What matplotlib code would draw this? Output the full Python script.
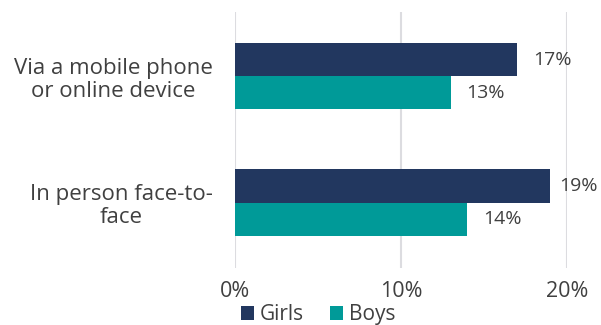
import numpy as np
import matplotlib.pyplot as plt

plt.rcParams['font.family'] = ['Open Sans', 'DejaVu Sans']

categories = ['Via a mobile phone\nor online device', 'In person face-to-\nface']
girls = [17, 19]
boys = [13, 14]
xticks = [0, 10, 20]

navy = '#22375f'
teal = '#009a98'
text_color = '#404040'

fig = plt.figure(figsize=(6.01, 3.25), dpi=100)
ax = fig.add_axes([0.391, 0.175, 0.552, 0.788])

y = np.arange(len(categories))
h = 0.262

b1 = ax.barh(y - h / 2, girls, height=h, color=navy, label='Girls')
b2 = ax.barh(y + h / 2, boys, height=h, color=teal, label='Boys')

ax.set_xlim(0, 20)
ax.set_ylim(1.52, -0.51)
ax.set_xticks(xticks)
ax.set_xticklabels([f'{t}%' for t in xticks], fontsize=15.5, color=text_color)
ax.set_yticks(y)
ax.set_yticklabels(categories, fontsize=16, color=text_color, multialignment='center',
                   linespacing=1.12)
ax.tick_params(length=0)
ax.tick_params(axis='y', pad=16)
ax.tick_params(axis='x', pad=9)
ax.grid(axis='x', color='#dcdce0', linewidth=1.5)
ax.set_axisbelow(True)
for s in ax.spines.values():
    s.set_visible(False)

# value labels; pull back any that would run past the right edge
renderer = fig.canvas.get_renderer()
max_px = fig.bbox.width - 3
for bars, vals in [(b1, girls), (b2, boys)]:
    for bar, v in zip(bars, vals):
        t = ax.text(v + 0.96, bar.get_y() + bar.get_height() / 2, f'{v}%',
                    va='center', ha='left', fontsize=14, color=text_color, clip_on=False)
        ext = t.get_window_extent(renderer)
        if ext.x1 > max_px:
            shift = (ext.x1 - max_px) * 20 / ax.bbox.width
            t.set_x(v + 0.96 - shift)

fig.legend(handles=[b1, b2], loc='lower center', bbox_to_anchor=(0.529, -0.058),
           ncol=2, frameon=False, fontsize=15, handlelength=0.62, handleheight=0.62,
           handletextpad=0.28, columnspacing=1.25, labelcolor=text_color)

fig.savefig('out.png', dpi=100)
